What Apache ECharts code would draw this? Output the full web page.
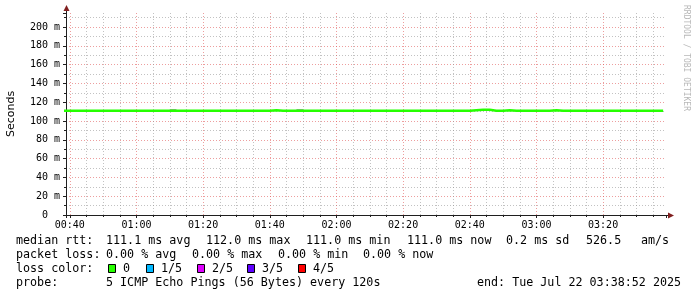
<!DOCTYPE html>
<html><head><meta charset="utf-8">
<script src="https://cdn.jsdelivr.net/npm/echarts@6/dist/echarts.min.js"></script>
<style>html,body{margin:0;padding:0;background:#fff}#c{width:697px;height:297px}</style>
</head><body><div id="c"></div>
<script>
// ---- data ----
const axisStart = "00:38:52";      // graph start
const axisEnd = "03:38:52";        // graph end
const firstSample = "00:38";       // first RRD step end
const sampleStepMinutes = 2;       // 120 s probe step
// median RTT per 120 s step, ms
const medianRtt = [
  111,111,111,111,111,111,111,111,111,111,
  111,111,111,111,111,111,111,111,111,111,
  111,111,111,111,111,111,111,111,111,111,
  111,111,111.5,111,111,111,111,111,111,111,
  111,111,111,111,111,111,111,111,111,111,
  111,111,111,111,111,111,111,111,111,111,
  111,111,111.5,112,112,111,111,111.5,111,111,
  111,111,111,111,111.5,111,111,111,111,111,
  111,111,111,111,111,111,111,111,111,111,
  111
];
// smoke: lowest and highest ping per step, ms
const pingMin = [
  111,111,111,111,111,111,111,111,111,111,
  111,111,111,111,111,111,111,111,111,111,
  111,111,111,111,111,111,111,111,111,111,
  111,111,111,111,111,111,111,111,111,111,
  111,111,111,111,111,111,111,111,111,111,
  111,111,111,111,111,111,111,111,111,111,
  111,111,111,111,111,111,111,111,111,111,
  111,111,111,111,111,111,111,111,111,111,
  111,111,111,111,111,111,111,111,111,111,
  111
];
const pingMax = [
  111,111,111,111,111,111,111,111,111,111,
  111,111,111,111,111,111,111,112.8,111,111,
  111,111,111,111,111,111,111,111,111,111,
  111,111,111,111,111,111,112.8,111,111,111,
  111,111,111,111,111,111,111,111,111,111,
  111,111,111,111,111,111,111,111,111,111,
  111,111,111,111,111,111,111,111,111,111,
  111,111,111,111,111,111,111,111,111,111,
  111,111,111,111,111,111,111,111,111,111,
  111
];
const yTicks = [0,20,40,60,80,100,120,140,160,180,200]; // shown as "N m"
const lossLabels = ["0","1/5","2/5","3/5","4/5"];
const lossColors = ["#26ff00","#00b8ff","#dd00ff","#5e00ff","#ff0000"];
const legendRow1 = [["median rtt:",16],["111.1 ms avg",106],["112.0 ms max",206],["111.0 ms min",306],["111.0 ms now",407],["0.2 ms sd",506],["526.5",586],["am/s",641]];
const legendRow2 = [["packet loss:",16],["0.00 % avg",106],["0.00 % max",192],["0.00 % min",278],["0.00 % now",363]];
const legendRow4 = [["probe:",16],["5 ICMP Echo Pings (56 Bytes) every 120s",106],["end: Tue Jul 22 03:38:52 2025",477]];

// ---- helpers ----
function toMin(s){const p=s.split(':').map(Number);return p[0]*60+p[1]+(p[2]||0)/60;}
function fmt(m){m=Math.round(m);const h=Math.floor(m/60),mm=m%60;return String(h).padStart(2,'0')+':'+String(mm).padStart(2,'0');}
const t0 = toMin(firstSample);
const times = medianRtt.map((_,i)=>t0+i*sampleStepMinutes);
const medianData = medianRtt.map((v,i)=>[times[i],v]);
const smokeData = pingMin.map((v,i)=>[times[i],v,pingMax[i],i>0?times[i-1]:times[i]]);

const MONO = '"DejaVu Sans Mono", monospace';
const chart = echarts.init(document.getElementById('c'), null, {renderer:'canvas'});

const graphics = [];
function addRow(row, y){
  row.forEach(([t,x])=>graphics.push({type:'text',silent:true,style:{text:t,x:x,y:y,font:'11.7px '+MONO,fill:'#000',verticalAlign:'middle'}}));
}
addRow(legendRow1,241);
addRow(legendRow2,255);
addRow([["loss color:",16]],269);
const boxX=[108,146,197,247,298];
lossLabels.forEach((l,i)=>{
  graphics.push({type:'rect',silent:true,shape:{x:boxX[i]+0.5,y:264.5,width:7,height:8},style:{fill:lossColors[i],stroke:'#000',lineWidth:1}});
  graphics.push({type:'text',silent:true,style:{text:l,x:boxX[i]+15,y:269,font:'11.7px '+MONO,fill:'#000',verticalAlign:'middle'}});
});
addRow(legendRow4,283);
// Y axis title
graphics.push({type:'text',silent:true,rotation:Math.PI/2,x:11,y:114,style:{text:'Seconds',x:0,y:0,font:'11px "DejaVu Sans", sans-serif',fill:'#000',align:'center',verticalAlign:'middle'}});
// watermark
graphics.push({type:'text',silent:true,rotation:-Math.PI/2,x:686,y:5,style:{text:'RRDTOOL / TOBI OETIKER',x:0,y:0,font:'8px '+MONO,fill:'#b8b8b8',align:'left',verticalAlign:'middle'}});
// axis extensions + arrows
graphics.push({type:'line',silent:true,shape:{x1:66.5,y1:13,x2:66.5,y2:9},style:{stroke:'#1f1f1f',lineWidth:1}});
graphics.push({type:'polygon',silent:true,shape:{points:[[66.5,5],[63.5,11],[69.5,11]]},style:{fill:'#801f1f'}});
graphics.push({type:'line',silent:true,shape:{x1:666,y1:215.5,x2:670,y2:215.5},style:{stroke:'#1f1f1f',lineWidth:1}});
graphics.push({type:'polygon',silent:true,shape:{points:[[674,215.5],[668,212.5],[668,218.5]]},style:{fill:'#801f1f'}});

const majorGrid = {show:true,showMinLine:false,showMaxLine:false,lineStyle:{color:'rgba(222,79,79,0.55)',type:[1,2],width:1}};
const minorGrid = {show:true,lineStyle:{color:'rgba(143,143,143,0.55)',type:[1,2],width:1}};

chart.setOption({
  animation:false,
  backgroundColor:'#ffffff',
  grid:{left:66,right:31,top:13,bottom:82,containLabel:false},
  xAxis:{
    type:'value', min:toMin(axisStart), max:toMin(axisEnd), splitNumber:9,
    axisLine:{show:true,onZero:false,lineStyle:{color:'#1f1f1f',width:1}},
    axisTick:{show:true,length:3,lineStyle:{color:'#1f1f1f'}},
    minorTick:{show:true,splitNumber:4,length:2,lineStyle:{color:'#1f1f1f'}},
    axisLabel:{formatter:v=>fmt(v),fontFamily:MONO,fontSize:10,color:'#000',margin:5,showMinLabel:false,showMaxLabel:false},
    splitLine:majorGrid,
    minorSplitLine:minorGrid
  },
  yAxis:{
    type:'value', min:yTicks[0], max:215, interval:yTicks[1]-yTicks[0],
    axisLine:{show:true,lineStyle:{color:'#1f1f1f',width:1}},
    axisTick:{show:true,length:3,lineStyle:{color:'#1f1f1f'}},
    minorTick:{show:true,splitNumber:2,length:2,lineStyle:{color:'#1f1f1f'}},
    axisLabel:{formatter:v=>yTicks.includes(v)?(v===0?'0  ':v+' m'):'',fontFamily:MONO,fontSize:10,color:'#000',margin:6,showMaxLabel:false},
    splitLine:majorGrid,
    minorSplitLine:minorGrid
  },
  series:[
    {type:'custom',name:'smoke',data:smokeData,silent:true,z:2,
     encode:{x:[0,3],y:[1,2]},
     renderItem:function(params,api){
       const lo=api.value(1), hi=api.value(2), x1=api.value(0), x0=api.value(3);
       if(!(hi>lo) || x1<=x0) return null;
       const a=api.coord([x0,hi]), b=api.coord([x1,lo]);
       return {type:'rect',shape:{x:a[0],y:a[1],width:b[0]-a[0],height:b[1]-a[1]},style:{fill:'#a0a0a0'}};
     }},
    {type:'line',name:'median',data:medianData,step:'start',symbol:'none',silent:true,lineStyle:{color:'#26ff00',width:2.4},z:3}
  ],
  graphic:graphics
});
</script></body></html>
